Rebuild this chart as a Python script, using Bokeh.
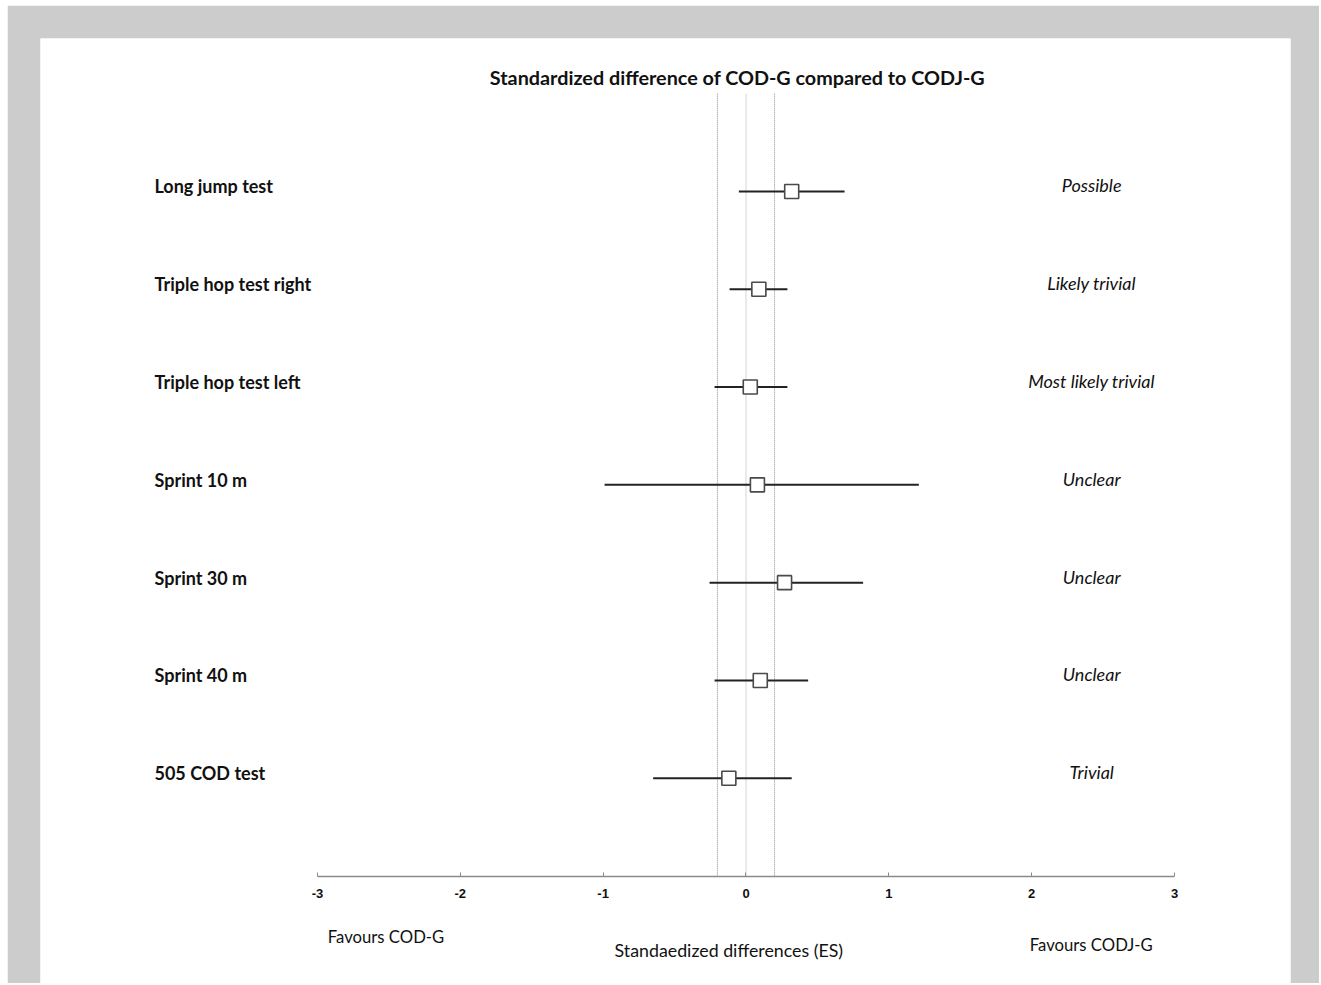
from bokeh.plotting import figure
from bokeh.models import Range1d, LinearAxis, ColumnDataSource, Label, FixedTicker
from bokeh.core.properties import value
from bokeh.embed import file_html
from bokeh.resources import INLINE

# ---- data ----
tests = ["Long jump test", "Triple hop test right", "Triple hop test left",
         "Sprint 10 m", "Sprint 30 m", "Sprint 40 m", "505 COD test"]
es = [0.32, 0.09, 0.03, 0.08, 0.27, 0.10, -0.12]
ci_low = [-0.05, -0.115, -0.22, -0.99, -0.255, -0.22, -0.65]
ci_high = [0.69, 0.29, 0.29, 1.21, 0.82, 0.435, 0.32]
inference = ["Possible", "Likely trivial", "Most likely trivial",
             "Unclear", "Unclear", "Unclear", "Trivial"]
thresholds = [-0.2, 0.2]
zero_line = [0.0]
x_ticks = [-3, -2, -1, 0, 1, 2, 3]
x_tick_labels = ["-3", "-2", "-1", "0", "1", "2", "3"]

rows = list(range(len(tests)))
src = ColumnDataSource(dict(y=rows, test=tests, es=es, lo=ci_low, hi=ci_high, inf=inference))

FONT = "Lato"

p = figure(width=1312, height=978,
           x_range=Range1d(-4.939, 3.812), y_range=Range1d(8.099, -1.564),
           output_backend="svg", toolbar_location=None,
           x_axis_location=None, y_axis_location=None,
           min_border_left=33, min_border_top=33, min_border_right=29, min_border_bottom=0,
           border_fill_color="#cccccc", background_fill_color="white",
           outline_line_color=None)
p.margin = (5, 0, 0, 7)
p.grid.visible = False

axis = LinearAxis(fixed_location=7.008, ticker=FixedTicker(ticks=x_ticks), bounds=(-3, 3))
axis.major_label_overrides = {t: s for t, s in zip(x_ticks, x_tick_labels)}
axis.axis_line_color = "#8a8a8a"
axis.axis_line_width = 1.5
axis.major_tick_in = 4
axis.major_tick_out = 0
axis.major_tick_line_color = "#8a8a8a"
axis.minor_tick_line_color = None
axis.major_label_text_font = "Liberation Sans"
axis.major_label_text_font_size = "13px"
axis.major_label_text_font_style = "bold"
axis.major_label_text_color = "#111111"
axis.major_label_standoff = 12
p.add_layout(axis, "below")

# reference lines
p.segment(x0=zero_line, y0=-1.0, x1=zero_line, y1=7.0, line_color="#d4d4d4", line_width=1)
p.segment(x0=thresholds, y0=-1.0, x1=thresholds, y1=7.0, line_color="#8a8a8a",
          line_width=1, line_dash="1 1")

# CIs and estimates
p.segment(x0="lo", y0="y", x1="hi", y1="y", source=src, line_color="#222222", line_width=2)
p.scatter(x="es", y="y", source=src, marker="square", size=14,
          fill_color="white", line_color="#4a4a4a", line_width=1.6)

# row labels
p.text(x=-4.141, y="y", text="test", source=src, text_font=value(FONT),
       text_font_size="18px", text_font_style="bold", text_color="#111111",
       text_align="left", text_baseline="middle", y_offset=-5)
p.text(x=2.42, y="y", text="inf", source=src, text_font=value(FONT),
       text_font_size="18px", text_font_style="italic", text_color="#111111",
       text_align="center", text_baseline="middle", y_offset=-6)

def lab(x, y, t, size, style="normal"):
    p.add_layout(Label(x=x, y=y, text=t, text_font=FONT, text_font_size=size,
                       text_font_style=style, text_color="#111111",
                       text_align="center", text_baseline="middle"))

lab(-0.06, -1.175, "Standardized difference of COD-G compared to CODJ-G", "19.8px", "bold")
lab(-2.52, 7.625, "Favours COD-G", "16.7px")
lab(-0.12, 7.755, "Standaedized differences (ES)", "17.8px")
lab(2.417, 7.705, "Favours CODJ-G", "16.7px")

open("out.html", "w").write(file_html(p, INLINE))
